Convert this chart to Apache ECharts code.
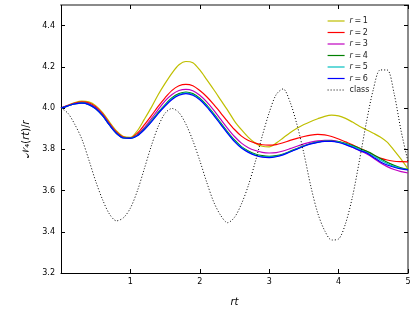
<!DOCTYPE html>
<html><head><meta charset="utf-8">
<script src="https://cdn.jsdelivr.net/npm/echarts@6/dist/echarts.min.js"></script>
<style>html,body{margin:0;padding:0;background:#fff}#c{width:415px;height:313px}</style>
</head><body><div id="c"></div>
<script>
const xs = [0.0,0.1,0.2,0.3,0.4,0.5,0.6,0.7,0.8,0.9,1.0,1.1,1.2,1.3,1.4,1.5,1.6,1.7,1.8,1.9,2.0,2.1,2.2,2.3,2.4,2.5,2.6,2.7,2.8,2.9,3.0,3.1,3.2,3.3,3.4,3.5,3.6,3.7,3.8,3.9,4.0,4.1,4.2,4.3,4.4,4.5,4.6,4.7,4.8,4.9,5.0];
const r1 = [4.000,4.014,4.027,4.034,4.030,4.012,3.978,3.932,3.889,3.862,3.858,3.890,3.945,4.002,4.065,4.120,4.170,4.210,4.226,4.220,4.185,4.138,4.090,4.040,3.990,3.937,3.895,3.858,3.830,3.815,3.812,3.830,3.855,3.880,3.902,3.920,3.935,3.948,3.960,3.966,3.962,3.950,3.932,3.912,3.895,3.878,3.860,3.835,3.795,3.752,3.705];
const r2 = [4.000,4.013,4.024,4.030,4.025,4.006,3.972,3.926,3.884,3.859,3.856,3.878,3.918,3.962,4.008,4.050,4.086,4.108,4.115,4.108,4.085,4.055,4.018,3.977,3.935,3.896,3.864,3.843,3.830,3.822,3.820,3.823,3.832,3.843,3.853,3.862,3.869,3.872,3.870,3.862,3.850,3.836,3.822,3.806,3.790,3.772,3.757,3.748,3.742,3.740,3.739];
const r3 = [4.000,4.012,4.022,4.027,4.021,4.002,3.968,3.921,3.880,3.857,3.855,3.870,3.905,3.948,3.993,4.035,4.066,4.085,4.091,4.084,4.062,4.030,3.990,3.946,3.902,3.862,3.830,3.808,3.794,3.785,3.782,3.784,3.792,3.803,3.815,3.826,3.835,3.841,3.844,3.843,3.837,3.825,3.810,3.794,3.778,3.758,3.735,3.716,3.702,3.692,3.685];
const r4 = [4.000,4.011,4.021,4.025,4.018,3.998,3.964,3.918,3.878,3.856,3.854,3.868,3.899,3.937,3.979,4.017,4.050,4.070,4.078,4.070,4.048,4.014,3.973,3.929,3.885,3.845,3.813,3.792,3.777,3.769,3.766,3.769,3.777,3.790,3.804,3.817,3.828,3.836,3.840,3.840,3.837,3.829,3.818,3.805,3.791,3.775,3.755,3.737,3.722,3.710,3.703];
const r5 = [4.000,4.011,4.020,4.024,4.017,3.997,3.963,3.917,3.877,3.855,3.853,3.867,3.897,3.935,3.976,4.014,4.046,4.066,4.074,4.066,4.044,4.010,3.969,3.925,3.881,3.841,3.810,3.788,3.773,3.765,3.763,3.766,3.775,3.788,3.802,3.816,3.827,3.835,3.839,3.839,3.835,3.826,3.814,3.800,3.786,3.768,3.748,3.731,3.717,3.707,3.701];
const r6 = [4.000,4.011,4.020,4.024,4.017,3.997,3.963,3.917,3.877,3.855,3.853,3.866,3.895,3.932,3.973,4.010,4.042,4.062,4.070,4.062,4.040,4.006,3.965,3.921,3.877,3.837,3.806,3.785,3.770,3.762,3.760,3.764,3.773,3.787,3.801,3.815,3.826,3.834,3.838,3.838,3.833,3.823,3.810,3.795,3.783,3.762,3.740,3.724,3.713,3.705,3.700];
const cls = [4.000,3.975,3.920,3.850,3.750,3.645,3.555,3.485,3.453,3.468,3.515,3.598,3.705,3.815,3.910,3.975,3.998,3.978,3.922,3.842,3.745,3.640,3.545,3.480,3.444,3.470,3.535,3.625,3.740,3.865,3.978,4.065,4.093,4.030,3.920,3.780,3.620,3.490,3.405,3.360,3.365,3.440,3.570,3.745,3.930,4.090,4.185,4.185,4.070,3.890,3.740];
const names = ['r=1','r=2','r=3','r=4','r=5','r=6','class'];
const colors = ['#bfbf00','#ff0000','#bf00bf','#008000','#00bfbf','#0000ff','#000000'];
const xTicks = [1,2,3,4,5];
const yTicks = [3.2,3.4,3.6,3.8,4.0,4.2,4.4];

const vals = [r1,r2,r3,r4,r5,r6,cls];
const series = vals.map((v,i)=>({
  name: names[i], type:'line', symbol:'none', smooth:0.3,
  data: xs.map((x,j)=>[x,v[j]]),
  lineStyle: i===6 ? {color:colors[i], width:1, type:[1,2]} : {color:colors[i], width:1.2},
  itemStyle:{color:colors[i]},
  xAxisIndex:0, yAxisIndex:0, animation:false
}));

const font = 'DejaVu Sans';
const chart = echarts.init(document.getElementById('c'), null, {renderer:'canvas'});
const tickIn = {show:true, inside:true, length:4, lineStyle:{color:'#000', width:1}};
chart.setOption({
  animation:false,
  backgroundColor:'#fff',
  grid:{left:61, right:7, top:5, bottom:40, containLabel:false},
  legend:{
    orient:'vertical', left:322, top:12, itemWidth:17, itemHeight:8, itemGap:3.5,
    data:names,
    itemStyle:{opacity:0},
    lineStyle:{width:1.2},
    textStyle:{fontFamily:font, fontSize:8, color:'#222',
      rich:{i:{fontFamily:font, fontStyle:'italic', fontSize:8, color:'#222'}, n:{fontFamily:font, fontSize:8, color:'#222'}}},
    formatter: n => n==='class' ? 'class' : '{i|r}{n|\u2009=\u2009' + n.slice(2) + '}'
  },
  xAxis:[{
    type:'value', min:0, max:5, interval:1, position:'bottom',
    axisLine:{show:true, onZero:false, lineStyle:{color:'#000', width:1}},
    axisTick:tickIn, splitLine:{show:false},
    axisLabel:{fontFamily:font, fontSize:8, color:'#000', margin:5,
      formatter: v => xTicks.indexOf(v)>=0 ? String(v) : ''},
    name:'rt', nameLocation:'middle', nameGap:24,
    nameTextStyle:{fontFamily:font, fontStyle:'italic', fontSize:10, color:'#000'}
  },{
    type:'value', min:0, max:5, interval:1, position:'top',
    axisLine:{show:true, onZero:false, lineStyle:{color:'#8a8a8a', width:2}},
    axisTick:tickIn, axisLabel:{show:false}, splitLine:{show:false}
  }],
  yAxis:[{
    type:'value', min:3.2, max:4.5, interval:0.2, position:'left',
    axisLine:{show:true, onZero:false, lineStyle:{color:'#000', width:1}},
    axisTick:tickIn, splitLine:{show:false},
    axisLabel:{fontFamily:font, fontSize:8, color:'#000', margin:6, showMaxLabel:false,
      formatter: v => { const t = yTicks.find(y=>Math.abs(y-v)<1e-6); return t!==undefined ? t.toFixed(1) : ''; }},
    name:'{N|\u{1D4A9}}{t|\u2084(}{i|rt}{t|)/}{i|r}', nameLocation:'middle', nameGap:19, nameRotate:90,
    nameTextStyle:{fontFamily:font, fontSize:10, color:'#000',
      rich:{N:{fontFamily:font, fontSize:10, color:'#000'}, t:{fontFamily:font, fontSize:10, color:'#000'}, i:{fontFamily:font, fontStyle:'italic', fontSize:10, color:'#000'}}}
  },{
    type:'value', min:3.2, max:4.5, interval:0.2, position:'right',
    axisLine:{show:true, onZero:false, lineStyle:{color:'#8a8a8a', width:2}},
    axisTick:tickIn, axisLabel:{show:false}, splitLine:{show:false}
  }],
  series: series
});
</script></body></html>
